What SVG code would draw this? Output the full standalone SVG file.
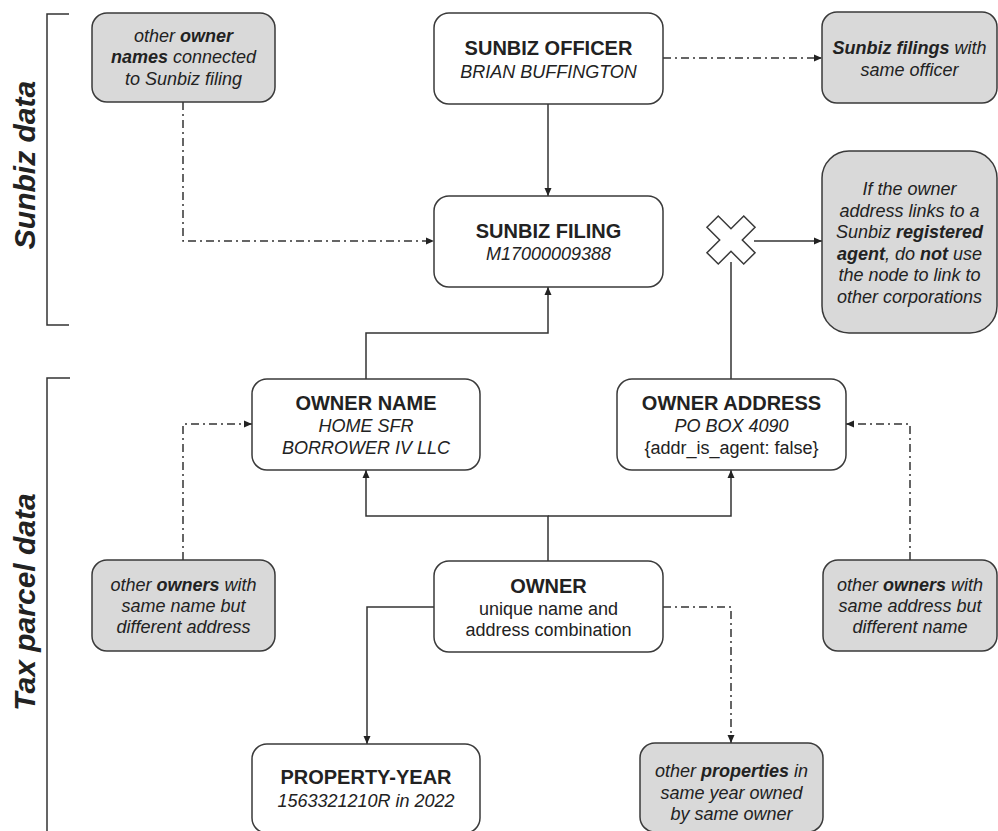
<svg xmlns="http://www.w3.org/2000/svg" width="998" height="831" viewBox="0 0 998 831">
<style>
.box{fill:#fff;stroke:#3a3a3a;stroke-width:1.5}
.gbox{fill:#d9d9d9;stroke:#3a3a3a;stroke-width:1.5}
text{font-family:"Liberation Sans",Arial,Helvetica,sans-serif;fill:#222;text-anchor:middle}
.h{font-size:20px;font-weight:bold}
.s{font-size:18px;font-style:italic}
.r{font-size:18px}
.b{font-weight:bold}
.side{font-size:30px;font-weight:bold;font-style:italic}
.edge{fill:none;stroke:#333;stroke-width:1.5}
.dd{stroke-dasharray:8 4 2 4}
.arr{marker-end:url(#ah)}
.brk{fill:none;stroke:#333;stroke-width:1.5}
</style>
<defs>
<marker id="ah" markerUnits="userSpaceOnUse" markerWidth="9" markerHeight="8" refX="8" refY="4" orient="auto">
<path d="M0,0.5 L8,4 L0,7.5 z" fill="#222"/>
</marker>
</defs>
<rect width="998" height="831" fill="#fff"/>

<g id="brackets">
<path class="brk" d="M69,14 H47 V325 H69"/>
<path class="brk" d="M70,378 H47 V840"/>
<text class="side" transform="translate(35,165) rotate(-90)">Sunbiz data</text>
<text class="side" transform="translate(35,602) rotate(-90)">Tax parcel data</text>
</g>

<g id="connectors">
<path class="edge arr" d="M548,104 V196"/>
<path class="edge dd arr" d="M183,102 V241 H434"/>
<path class="edge dd arr" d="M663,58 H822"/>
<path class="edge arr" d="M366,379 V333 H548 V287"/>
<path class="edge" d="M731,379 V262"/>
<path class="edge arr" d="M754,241 H822"/>
<path class="edge arr" d="M548,561 V516 H366 V470"/>
<path class="edge arr" d="M548,516 H731 V470"/>
<path class="edge dd arr" d="M183,560 V424 H252"/>
<path class="edge dd arr" d="M910,560 V424 H846"/>
<path class="edge arr" d="M434,607 H367 V744"/>
<path class="edge dd arr" d="M663,607 H731 V743"/>
</g>

<g id="x-block">
<polygon transform="translate(731,240) rotate(45)" points="-8,-26 8,-26 8,-8 26,-8 26,8 8,8 8,26 -8,26 -8,8 -26,8 -26,-8 -8,-8" fill="#fff" stroke="#3a3a3a" stroke-width="1.5"/>
</g>

<g id="other-owner-names">
<rect class="gbox" x="92" y="13" width="183" height="89" rx="15"/>
<text class="s" x="183.5" y="42">other <tspan class="b">owner</tspan></text>
<text class="s" x="183.5" y="63"><tspan class="b">names</tspan> connected</text>
<text class="s" x="183.5" y="85">to Sunbiz filing</text>
</g>

<g id="sunbiz-officer">
<rect class="box" x="434" y="13" width="229" height="91" rx="15"/>
<text class="h" x="548.5" y="55">SUNBIZ OFFICER</text>
<text class="s" x="548.5" y="78">BRIAN BUFFINGTON</text>
</g>

<g id="sunbiz-filings-officer">
<rect class="gbox" x="822" y="12" width="175" height="91" rx="15"/>
<text class="s" x="909.5" y="54"><tspan class="b">Sunbiz filings</tspan> with</text>
<text class="s" x="909.5" y="76">same officer</text>
</g>

<g id="sunbiz-filing">
<rect class="box" x="434" y="196" width="229" height="91" rx="15"/>
<text class="h" x="548.5" y="238">SUNBIZ FILING</text>
<text class="s" x="548.5" y="260">M17000009388</text>
</g>

<g id="registered-agent-note">
<rect class="gbox" x="822" y="151" width="175" height="182" rx="27"/>
<text class="s" x="909.5" y="195">If the owner</text>
<text class="s" x="909.5" y="216.5">address links to a</text>
<text class="s" x="909.5" y="238">Sunbiz <tspan class="b">registered</tspan></text>
<text class="s" x="909.5" y="259.5"><tspan class="b">agent</tspan>, do <tspan class="b">not</tspan> use</text>
<text class="s" x="909.5" y="281">the node to link to</text>
<text class="s" x="909.5" y="302.5">other corporations</text>
</g>

<g id="owner-name">
<rect class="box" x="252" y="379" width="228" height="91" rx="15"/>
<text class="h" x="366" y="410">OWNER NAME</text>
<text class="s" x="366" y="432">HOME SFR</text>
<text class="s" x="366" y="454">BORROWER IV LLC</text>
</g>

<g id="owner-address">
<rect class="box" x="617" y="379" width="229" height="91" rx="15"/>
<text class="h" x="731.5" y="410">OWNER ADDRESS</text>
<text class="s" x="731.5" y="432">PO BOX 4090</text>
<text class="r" x="731.5" y="454">{addr_is_agent: false}</text>
</g>

<g id="same-name-owners">
<rect class="gbox" x="92" y="560" width="183" height="91" rx="15"/>
<text class="s" x="183.5" y="591">other <tspan class="b">owners</tspan> with</text>
<text class="s" x="183.5" y="612">same name but</text>
<text class="s" x="183.5" y="633">different address</text>
</g>

<g id="owner">
<rect class="box" x="434" y="561" width="229" height="91" rx="15"/>
<text class="h" x="548.5" y="593">OWNER</text>
<text class="r" x="548.5" y="615">unique name and</text>
<text class="r" x="548.5" y="636">address combination</text>
</g>

<g id="same-address-owners">
<rect class="gbox" x="823" y="560" width="174" height="91" rx="15"/>
<text class="s" x="910" y="591">other <tspan class="b">owners</tspan> with</text>
<text class="s" x="910" y="612">same address but</text>
<text class="s" x="910" y="633">different name</text>
</g>

<g id="property-year">
<rect class="box" x="252" y="744" width="228" height="89" rx="15"/>
<text class="h" x="366" y="784">PROPERTY-YEAR</text>
<text class="s" x="366" y="807">1563321210R in 2022</text>
</g>

<g id="other-properties">
<rect class="gbox" x="640" y="743" width="183" height="89" rx="15"/>
<text class="s" x="731.5" y="777">other <tspan class="b">properties</tspan> in</text>
<text class="s" x="731.5" y="798.5">same year owned</text>
<text class="s" x="731.5" y="820">by same owner</text>
</g>
</svg>
